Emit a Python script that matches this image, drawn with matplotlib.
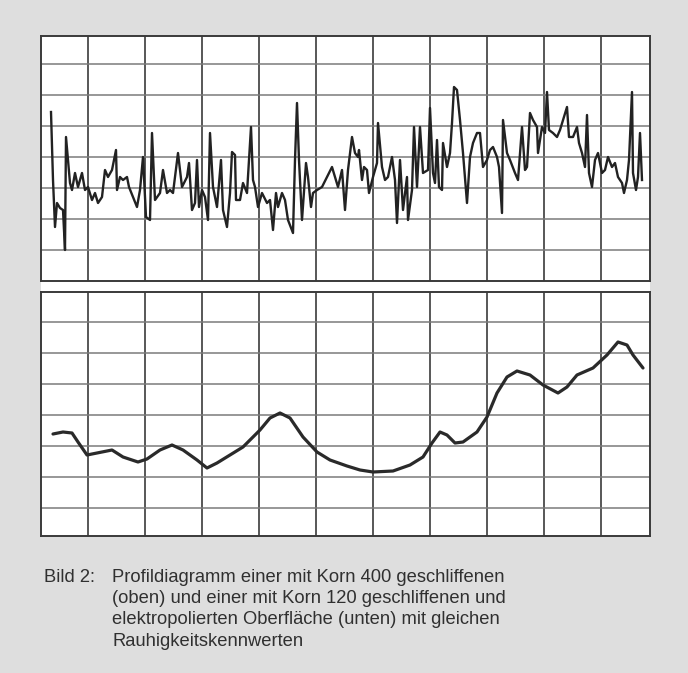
# -*- coding: utf-8 -*-
'''
    Profildiagramm: geschliffene (oben) und elektropolierte (unten) Oberflaeche
'''
import numpy as np
import matplotlib
matplotlib.use('Agg')
import matplotlib.pyplot as plt

# _____________________________________________________________________________
#                           Daten
# _____________________________________________________________________________

# Korn 400 geschliffen (oben)
x_oben = [10, 12, 14, 16, 19, 22, 24, 25, 29, 31, 34, 37, 41, 44, 47, 51, 54,
          57, 61, 64, 67, 71, 75, 76, 79, 82, 86, 88, 92, 96, 99, 102, 105,
          109, 111, 114, 119, 122, 126, 129, 132, 137, 141, 146, 148, 151,
          154, 156, 158, 161, 164, 167, 169, 172, 176, 180, 182, 186, 189,
          191, 194, 195, 199, 202, 206, 210, 212, 214, 217, 221, 226, 229,
          232, 235, 237, 241, 244, 247, 252, 254, 256, 258, 261, 265, 267,
          270, 272, 276, 281, 286, 291, 294, 297, 301, 304, 307, 311, 314,
          317, 318, 321, 323, 326, 328, 332, 336, 337, 341, 344, 347, 351,
          354, 356, 359, 362, 366, 367, 371, 373, 376, 379, 382, 387, 389,
          392, 394, 396, 398, 401, 402, 406, 409, 411, 413, 416, 419, 422,
          426, 429, 432, 436, 439, 442, 446, 449, 452, 456, 458, 461, 462,
          466, 469, 474, 477, 481, 484, 486, 489, 492, 496, 497, 501, 504,
          506, 508, 512, 516, 519, 522, 526, 528, 532, 536, 538, 541, 544,
          546, 548, 551, 554, 557, 561, 564, 567, 571, 574, 577, 581, 583,
          586, 588, 591, 592, 595, 597, 599, 601]
y_oben = [169, 101, 54, 78, 73, 71, 31, 144, 98, 91, 108, 94, 108, 91, 94,
          81, 88, 78, 84, 111, 104, 111, 131, 91, 104, 101, 104, 94, 84, 74,
          91, 124, 64, 61, 148, 81, 88, 111, 88, 91, 88, 128, 94, 104, 118,
          71, 78, 121, 74, 91, 84, 61, 148, 94, 74, 121, 71, 54, 88, 129,
          126, 81, 81, 98, 88, 154, 101, 94, 74, 88, 78, 81, 51, 88, 74, 88,
          81, 61, 48, 121, 178, 121, 61, 118, 104, 74, 88, 91, 94, 104, 114,
          104, 94, 111, 71, 111, 144, 128, 124, 131, 101, 114, 111, 88, 104,
          118, 158, 114, 101, 104, 124, 101, 58, 121, 71, 104, 61, 91, 154,
          94, 154, 108, 111, 173, 108, 98, 141, 94, 91, 138, 114, 128, 158,
          194, 191, 161, 128, 78, 124, 138, 148, 148, 114, 121, 131, 134,
          124, 114, 68, 161, 128, 121, 108, 101, 154, 111, 114, 168, 161, 154,
          128, 154, 148, 189, 151, 148, 144, 151, 161, 174, 144, 144, 154,
          138, 128, 114, 166, 108, 94, 121, 128, 108, 111, 124, 114, 118, 104,
          98, 88, 101, 121, 189, 108, 91, 104, 148, 101]

# Korn 120 geschliffen + elektropoliert (unten)
x_unten = [12, 22, 31, 37, 46, 56, 71, 82, 97, 106, 119, 131, 142, 156, 166,
           176, 189, 202, 219, 229, 239, 249, 262, 276, 289, 306, 319, 332,
           352, 369, 382, 391, 399, 406, 414, 422, 436, 446, 456, 466, 476,
           489, 502, 517, 526, 536, 552, 566, 577, 586, 592, 602]
y_unten = [102, 104, 103, 94, 81, 83, 86, 79, 74, 77, 86, 91, 86, 76, 68,
           73, 81, 89, 106, 118, 123, 118, 99, 84, 76, 70, 66, 64, 65, 71,
           79, 93, 104, 101, 93, 94, 104, 119, 143, 159, 165, 161, 151, 143,
           149, 161, 168, 181, 194, 191, 181, 168]

legenda = ['Bild 2:',
           'Profildiagramm einer mit Korn 400 geschliffenen',
           '(oben) und einer mit Korn 120 geschliffenen und',
           'elektropolierten Oberfläche (unten) mit gleichen',
           'Rauhigkeitskennwerten']

# _____________________________________________________________________________
#                               Plotando
# _____________________________________________________________________________
plt.rcParams['font.family'] = ['Liberation Sans', 'DejaVu Sans']

fig = plt.figure(figsize=(6.88, 6.73), dpi=100, facecolor='#dedede')

# fundo branco do diagrama
fundo = fig.add_axes([41 / 688, 137 / 673, 609 / 688, 500 / 673])
fundo.set_facecolor('white')
fundo.set_xticks([])
fundo.set_yticks([])
for s in fundo.spines.values():
    s.set_visible(False)

ax_top = fig.add_axes([41 / 688, 392 / 673, 609 / 688, 245 / 673])
ax_bot = fig.add_axes([41 / 688, 137 / 673, 609 / 688, 244 / 673])

xgrid = 47 + 57 * np.arange(10)
for ax, yg, ymax in [(ax_top, 31 * np.arange(1, 8), 245),
                     (ax_bot, 28 + 31 * np.arange(0, 7), 244)]:
    ax.set_xlim(0, 609)
    ax.set_ylim(0, ymax)
    ax.set_facecolor('white')
    ax.set_xticks(xgrid)
    ax.set_yticks(yg)
    ax.tick_params(length=0, labelbottom=False, labelleft=False)
    ax.grid(axis='x', color='#4a4a4a', lw=1.3)
    ax.grid(axis='y', color='#7a7a7a', lw=1.1)
    for s in ax.spines.values():
        s.set_color('#3a3a3a')
        s.set_linewidth(1.4)

ax_top.plot(x_oben, y_oben, color='#222222', lw=1.7, zorder=3,
            solid_joinstyle='round')
ax_bot.plot(x_unten, y_unten, color='#2a2a2a', lw=2.3, zorder=3,
            solid_capstyle='round', solid_joinstyle='round')

# legenda
fig.text(44 / 688, 1 - 577 / 673, legenda[0], fontsize=13.2,
         color='#303030', va='center')
for i, linha in enumerate(legenda[1:]):
    fig.text(112 / 688, 1 - (577 + 21.5 * i) / 673, linha, fontsize=13.2,
             color='#303030', va='center')

fig.savefig('out.png', dpi=100, facecolor=fig.get_facecolor())
